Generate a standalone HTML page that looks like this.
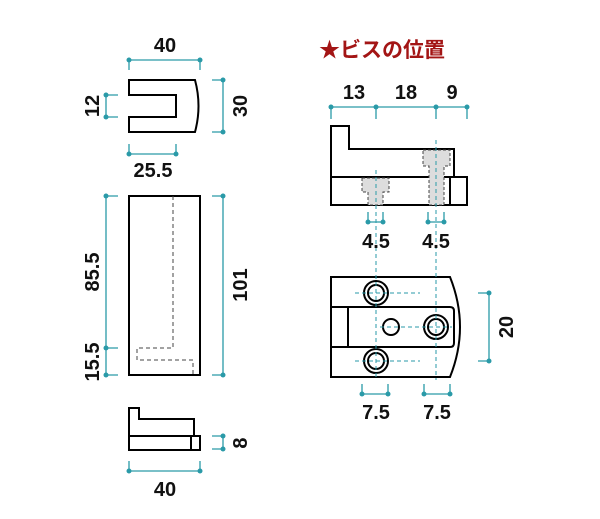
<!DOCTYPE html>
<html><head><meta charset="utf-8"><style>body{margin:0;background:#fff}svg{display:block}</style></head>
<body>
<svg width="600" height="519" viewBox="0 0 600 519" xmlns="http://www.w3.org/2000/svg" font-family="Liberation Sans, sans-serif" font-weight="bold" font-size="20">
<g fill="none" stroke="#000" stroke-width="2">
<path d="M129,80 H195 Q202,106 195,132 H129 V117 H176 V95 H129 Z"/>
<rect x="129" y="196" width="71" height="179"/>
<path d="M129,450 V408 H139 V419 H194 V436"/>
<rect x="129" y="436" width="71" height="14"/>
<line x1="191" y1="436" x2="191" y2="450"/>
<path d="M331,177 V126 H349 V149 H454 V177"/>
<rect x="331" y="177" width="136" height="28"/>
<line x1="450" y1="177" x2="450" y2="205"/>
<path d="M331,277 H450 Q470,327 450,377 H331 Z"/>
<path d="M331,307 H450 Q454,307 454,311 V343 Q454,347 450,347 H331"/>
<line x1="348" y1="307" x2="348" y2="347"/>
<circle cx="376" cy="293" r="12"/><circle cx="376" cy="293" r="8"/>
<circle cx="376" cy="361" r="12"/><circle cx="376" cy="361" r="8"/>
<circle cx="436" cy="327" r="12"/><circle cx="436" cy="327" r="8"/>
<circle cx="391" cy="327" r="8"/>
</g>
<g fill="#ddd" stroke="#444" stroke-width="1" stroke-dasharray="3,2">
<path d="M362,178 H389 V192 H383 V205 H368 V192 H362 Z"/>
<path d="M423,150 H450 V166 H444 V205 H429 V166 H423 Z"/>
</g>
<path d="M173,196 V348 H137 V360 H193 V375" fill="none" stroke="#444" stroke-width="1" stroke-dasharray="4,3"/>
<g stroke="#2a9aa8" stroke-width="1" stroke-dasharray="4,3" fill="none">
<line x1="376" y1="170" x2="376" y2="380"/>
<line x1="436" y1="140" x2="436" y2="380"/>
<line x1="355" y1="293" x2="420" y2="293"/>
<line x1="355" y1="361" x2="420" y2="361"/>
<line x1="380" y1="327" x2="452" y2="327"/>
</g>
<g stroke="#2a9aa8" stroke-width="1.3" fill="none">
<path d="M129,60 H200 M129,60 V70 M200,60 V70"/>
<path d="M106,95 V117 M106,95 H118 M106,117 H118"/>
<path d="M223,80 V132 M223,80 H212 M223,132 H212"/>
<path d="M129,154 H176 M129,154 V144 M176,154 V144"/>
<path d="M106,196 V375 M106,196 H118 M106,348 H118 M106,375 H118"/>
<path d="M223,196 V375 M223,196 H212 M223,375 H212"/>
<path d="M223,436 V449 M223,436 H212 M223,449 H212"/>
<path d="M129,471 H200 M129,471 V461 M200,471 V461"/>
<path d="M331,107 H467 M331,107 V119 M376,107 V119 M436,107 V119 M467,107 V119"/>
<path d="M368,222 H383 M368,222 V212 M383,222 V212 M428,222 H444 M428,222 V212 M444,222 V212"/>
<path d="M489,293 V361 M489,293 H478 M489,361 H478"/>
<path d="M362,394 H388 M362,394 V384 M388,394 V384 M424,394 H450 M424,394 V384 M450,394 V384"/>
</g>
<g fill="#2a9aa8">
<circle cx="129" cy="60" r="2.5"/><circle cx="200" cy="60" r="2.5"/>
<circle cx="106" cy="95" r="2.5"/><circle cx="106" cy="117" r="2.5"/>
<circle cx="223" cy="80" r="2.5"/><circle cx="223" cy="132" r="2.5"/>
<circle cx="129" cy="154" r="2.5"/><circle cx="176" cy="154" r="2.5"/>
<circle cx="106" cy="196" r="2.5"/><circle cx="106" cy="348" r="2.5"/><circle cx="106" cy="375" r="2.5"/>
<circle cx="223" cy="196" r="2.5"/><circle cx="223" cy="375" r="2.5"/>
<circle cx="223" cy="436" r="2.5"/><circle cx="223" cy="449" r="2.5"/>
<circle cx="129" cy="471" r="2.5"/><circle cx="200" cy="471" r="2.5"/>
<circle cx="331" cy="107" r="2.5"/><circle cx="376" cy="107" r="2.5"/><circle cx="436" cy="107" r="2.5"/><circle cx="467" cy="107" r="2.5"/>
<circle cx="368" cy="222" r="2.5"/><circle cx="383" cy="222" r="2.5"/><circle cx="428" cy="222" r="2.5"/><circle cx="444" cy="222" r="2.5"/>
<circle cx="489" cy="293" r="2.5"/><circle cx="489" cy="361" r="2.5"/>
<circle cx="362" cy="394" r="2.5"/><circle cx="388" cy="394" r="2.5"/><circle cx="424" cy="394" r="2.5"/><circle cx="450" cy="394" r="2.5"/>
</g>
<g fill="#111" text-anchor="middle">
<text x="165" y="52">40</text>
<text x="153" y="177">25.5</text>
<text x="165" y="496">40</text>
<text x="354" y="99">13</text>
<text x="406" y="99">18</text>
<text x="452" y="99">9</text>
<text x="376" y="248">4.5</text>
<text x="436" y="248">4.5</text>
<text x="376" y="419">7.5</text>
<text x="437" y="419">7.5</text>
<text transform="translate(99,106) rotate(-90)">12</text>
<text transform="translate(247,106) rotate(-90)">30</text>
<text transform="translate(99,272) rotate(-90)">85.5</text>
<text transform="translate(99,362) rotate(-90)">15.5</text>
<text transform="translate(247,285) rotate(-90)">101</text>
<text transform="translate(247,443) rotate(-90)">8</text>
<text transform="translate(513,327) rotate(-90)">20</text>
</g>
<text x="319" y="57" fill="#a31515" font-size="21" font-weight="bold" font-family="Liberation Sans, Noto Sans CJK JP, sans-serif">★ビスの位置</text>
</svg>
</body></html>
